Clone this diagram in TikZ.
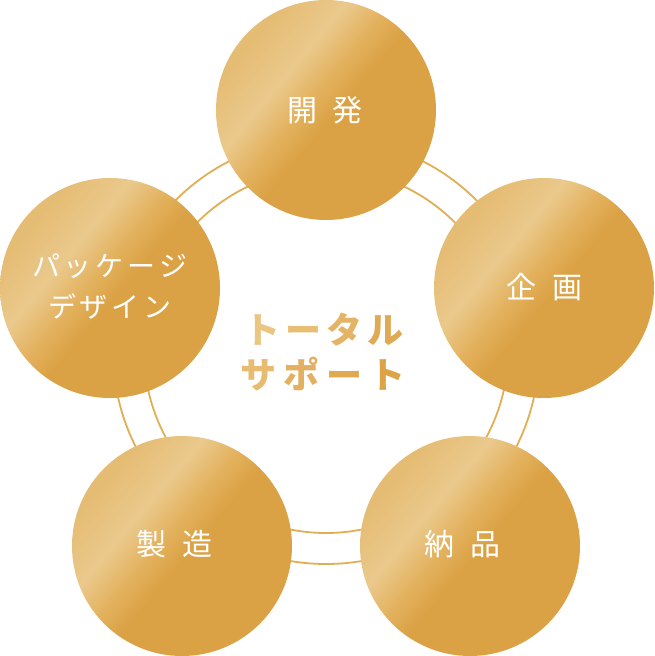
\documentclass[tikz,border=0pt]{standalone}
\usepackage{fontspec}
\newfontfamily\jp{Noto Sans CJK JP}
\definecolor{ringc}{HTML}{E1AE55}
\definecolor{ga}{HTML}{E5BC74}
\definecolor{gb}{HTML}{EAC98C}
\definecolor{gc}{HTML}{E3B15D}
\definecolor{gd}{HTML}{DBA245}
\definecolor{ta}{HTML}{EBC683}
\definecolor{tb}{HTML}{E8BE75}
\definecolor{tc}{HTML}{E4B466}
\definecolor{td}{HTML}{E0AA55}
\definecolor{te}{HTML}{E7BB70}
\definecolor{tf}{HTML}{E3B061}
\definecolor{tg}{HTML}{DFA851}
\definecolor{th}{HTML}{DCA347}
\pgfdeclarehorizontalshading{goldsh}{100bp}{color(0bp)=(ga); color(27bp)=(ga); color(38bp)=(gb); color(46bp)=(gc); color(52bp)=(gd); color(100bp)=(gd)}
\begin{document}
\begin{tikzpicture}[x=1pt,y=-1pt,
  ring/.style={draw=ringc, line width=1.8pt, circle, inner sep=0pt},
  bubble/.style={circle, minimum size=220pt, inner sep=0pt, shade, shading=goldsh, shading angle=-40},
  lbl/.style={text=white, inner sep=0pt, font=\jp\fontsize{30}{30}\selectfont},
  kata/.style={text=white, inner sep=0pt, font=\jp\fontsize{28}{28}\selectfont},
  ttl/.style={inner sep=0pt, font=\jp\bfseries\fontsize{36}{36}\selectfont}]
\useasboundingbox (0,0) rectangle (654,656);
\node[ring, minimum size=426pt] (outer) at (326,351) {};
\node[ring, minimum size=364pt] (inner) at (326,351) {};
\node[bubble] (kaihatsu) at (326,110) {};
\node[bubble] (kikaku) at (544,288) {};
\node[bubble] (nouhin) at (470,546) {};
\node[bubble] (seizou) at (182,546) {};
\node[bubble] (package) at (110,288) {};
\node[lbl] (l1) at (325,110) {開\hspace{16pt}発};
\node[lbl] (l2) at (544.5,287) {企\hspace{16pt}画};
\node[lbl] (l3) at (462.5,544) {納\hspace{16pt}品};
\node[lbl] (l4) at (174.5,544.5) {製\hspace{16pt}造};
\node[kata] (l5) at (110,266) {パ\hspace{4pt}ッ\hspace{4pt}ケ\hspace{4pt}ー\hspace{4pt}ジ};
\node[kata] (l6) at (110,306) {デ\hspace{4pt}ザ\hspace{4pt}イ\hspace{4pt}ン};
\node[ttl] (title1) at (324,330) {{\color{ta}ト}\hspace{4.8pt}{\color{tb}ー}\hspace{4.8pt}{\color{tc}タ}\hspace{4.8pt}{\color{td}ル}};
\node[ttl] (title2) at (322.5,374) {{\color{te}サ}\hspace{7pt}{\color{tf}ポ}\hspace{7pt}{\color{tg}ー}\hspace{7pt}{\color{th}ト}};
\end{tikzpicture}
\end{document}
